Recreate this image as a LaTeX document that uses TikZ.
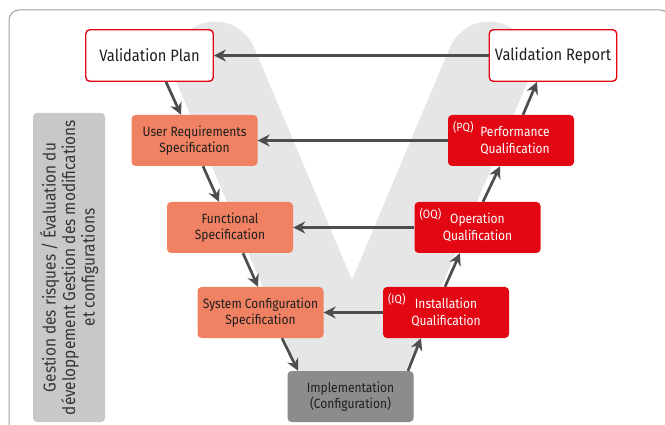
\documentclass[tikz,border=0pt]{standalone}
\usepackage{fontspec}
\setmainfont[FakeStretch=0.89]{Fira Sans}
\usetikzlibrary{arrows.meta}
\definecolor{vred}{HTML}{E30613}
\definecolor{salmon}{HTML}{F08263}
\definecolor{implgray}{HTML}{8A8C8E}
\definecolor{sidegray}{HTML}{C6C8CA}
\definecolor{vband}{HTML}{E6E6E6}
\definecolor{arrowgray}{HTML}{4D4D4D}
\definecolor{framegray}{HTML}{A0A0A0}
\definecolor{textdark}{HTML}{1E1E1E}
\begin{document}
\begin{tikzpicture}[x=1pt,y=-1pt,line join=round,
    endbox/.style={draw=vred,line width=1.4pt,fill=white,rounded corners=4pt,
      minimum width=127.5pt,minimum height=51.5pt,inner sep=0pt,text=textdark,
      font=\fontsize{16.5}{19}\selectfont},
    stagebox/.style={rounded corners=4pt,minimum width=126pt,minimum height=51pt,
      inner sep=0pt,align=center,font=\fontsize{13.5}{16.5}\selectfont},
    spec/.style={stagebox,fill=salmon,text=textdark},
    qual/.style={stagebox,fill=vred,text=white},
    impl/.style={stagebox,fill=implgray,text=textdark},
    tag/.style={anchor=north west,inner sep=0pt,text=white,font=\fontsize{12}{13}\selectfont},
    sidebox/.style={fill=sidegray,rounded corners=4pt,minimum width=309pt,minimum height=72pt,
      inner sep=0pt,align=center,text=textdark!90,font=\fontsize{17.3}{19.5}\selectfont},
    flow/.style={draw=arrowgray,line width=2.7pt,line join=miter,
      -{Stealth[length=12pt,width=12pt,inset=4pt]}}]
	\useasboundingbox (0,0) rectangle (665,425);
	\draw[framegray,line width=1pt,rounded corners=10pt] (9,440)--(9,10)--(670,10)--(670,440);
	% the V in the background
	\draw[vband,line width=85pt,line cap=round,line join=bevel] (215,64)--(352,389.5)--(489,64);

	\node[sidebox,rotate=90] (risk) at (69,267.5)
		{Gestion des risques / Évaluation du\\développement Gestion des modifications\\et configurations};

	\node[endbox] (plan) at (149.5,55.5) {Validation Plan};
	\node[endbox] (report) at (553,55.5) {Validation Report};

	\node[spec] (urs) at (194.5,140.5) {User Requirements\\Specification};
	\node[spec] (fs) at (230,227.5) {Functional\\Specification};
	\node[spec] (scs) at (260.5,312.5) {System Configuration\\Specification};
	\node[impl] (imp) at (350.5,396.5) {Implementation\\(Configuration)};
	\node[qual] (iq) at (446,312.5) {Installation\\Qualification};
	\node[qual] (oq) at (477.5,227.5) {Operation\\Qualification};
	\node[qual,text width=118pt,align=center] (pq) at (511,140.5) {\hspace*{8pt}Performance\\\hspace*{8pt}Qualification};

	\node[tag] (iqtag) at ([shift={(5,6)}]iq.north west) {(IQ)};
	\node[tag] (oqtag) at ([shift={(5,6)}]oq.north west) {(OQ)};
	\node[tag] (pqtag) at ([shift={(5,6)}]pq.north west) {(PQ)};

	\draw[flow] (report.west)--(plan.east);
	\draw[flow] (pq.west)--(urs.east);
	\draw[flow] (oq.west)--(fs.east);
	\draw[flow] (iq.west)--(scs.east);

	\draw[flow] ([xshift=16.5pt]plan.south)--([xshift=-13.5pt]urs.north);
	\draw[flow] ([xshift=8.5pt]urs.south)--([xshift=-11pt]fs.north);
	\draw[flow] ([xshift=13pt]fs.south)--([xshift=-2.5pt]scs.north);
	\draw[flow] ([xshift=21.5pt]scs.south)--([xshift=-52.5pt]imp.north);
	\draw[flow] ([xshift=57.5pt]imp.north)--([xshift=-25pt]iq.south);
	\draw[flow] ([xshift=-1pt]iq.north)--([xshift=-17.5pt]oq.south);
	\draw[flow] ([xshift=5.5pt]oq.north)--([xshift=-11pt]pq.south);
	\draw[flow] ([xshift=12pt]pq.north)--([xshift=-16pt]report.south);
\end{tikzpicture}
\end{document}
